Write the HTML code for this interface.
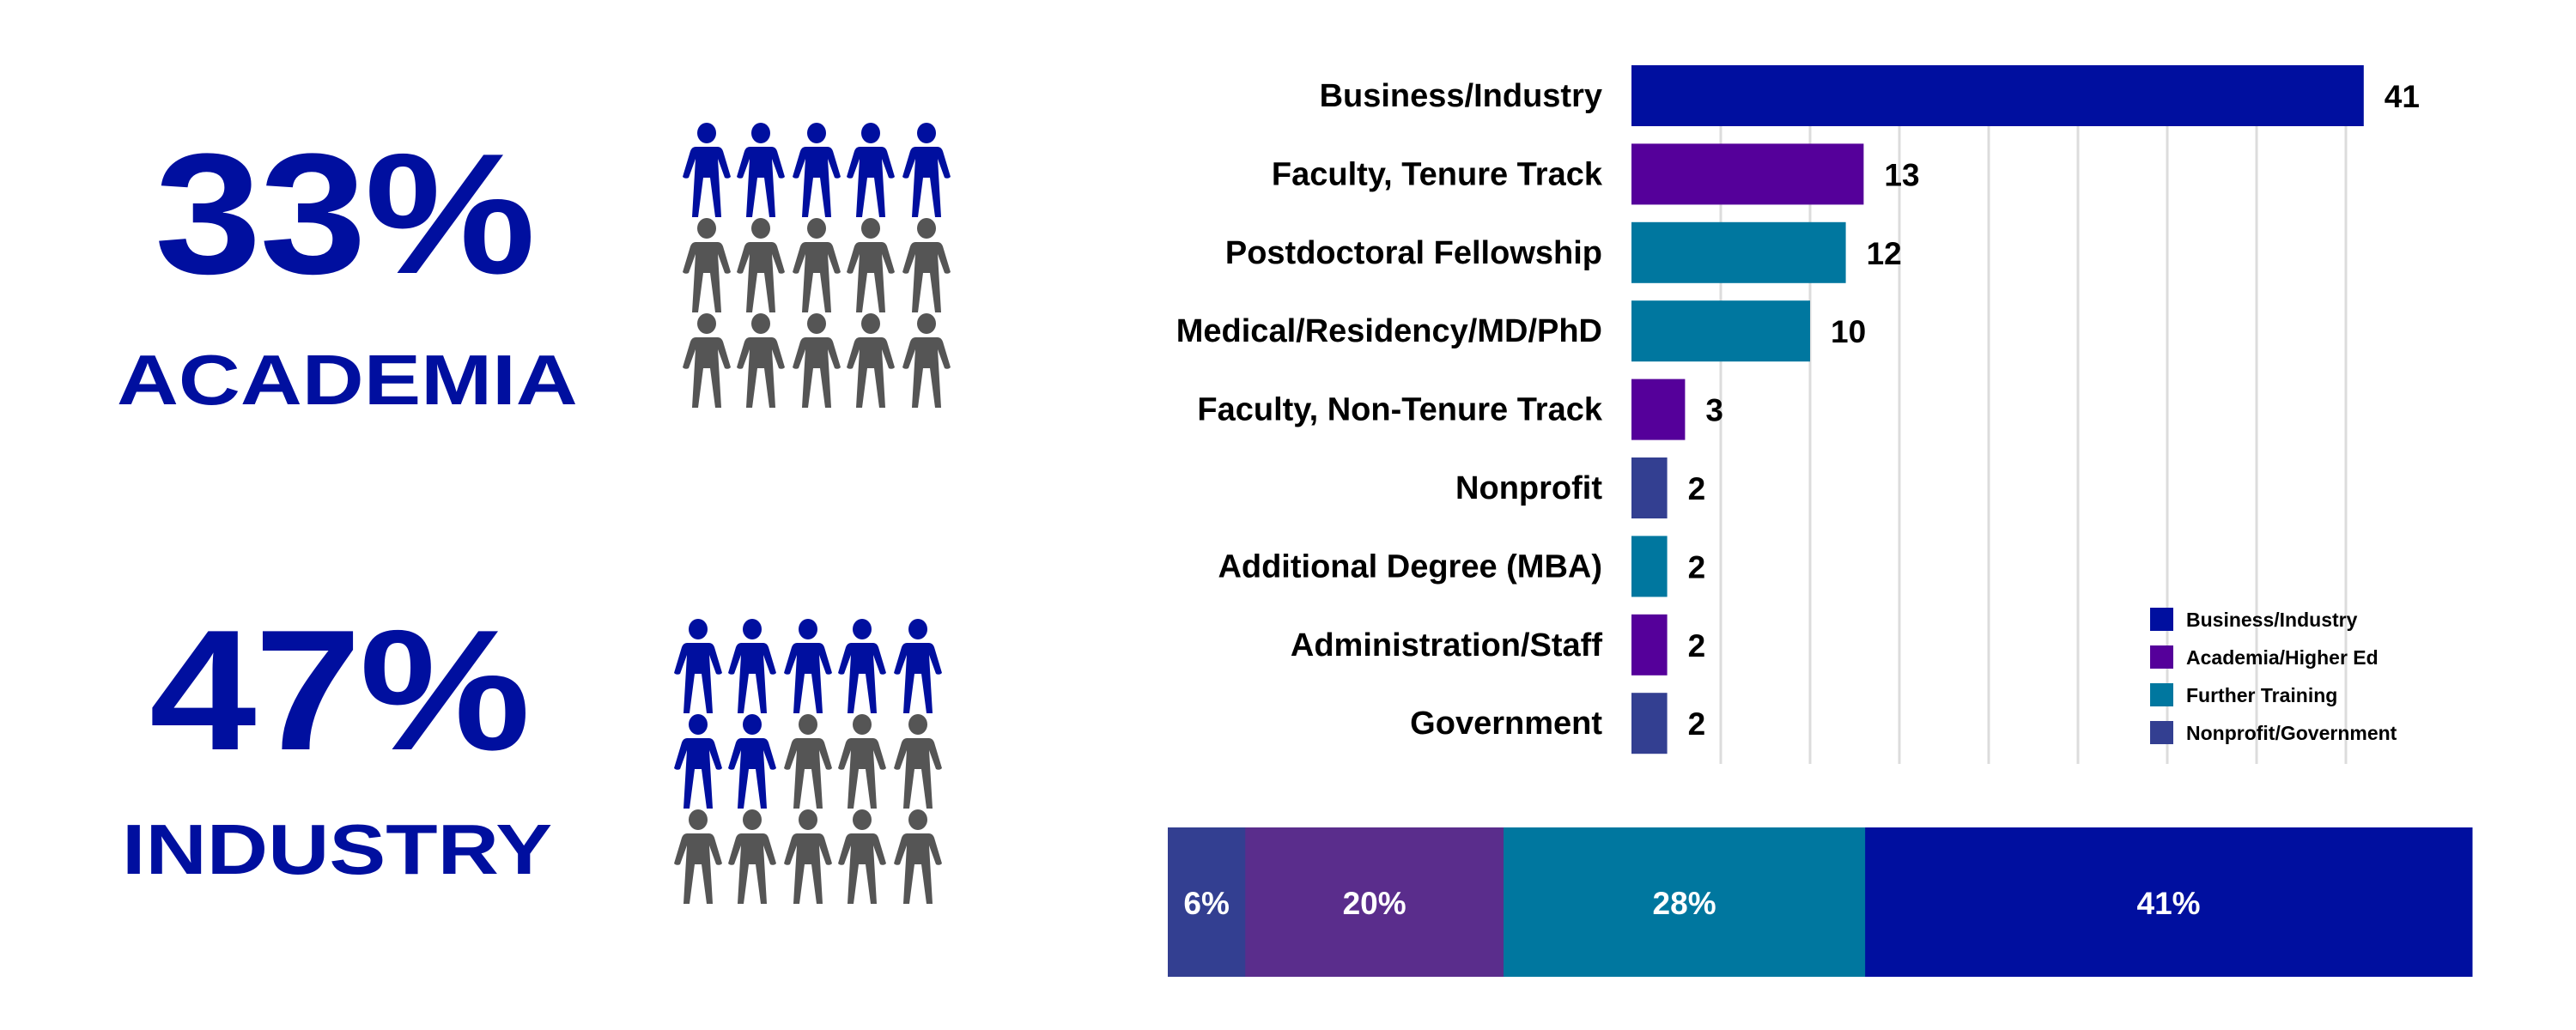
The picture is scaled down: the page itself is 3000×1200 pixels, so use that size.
<!DOCTYPE html>
<html><head><meta charset="utf-8"><style>
html,body{margin:0;padding:0;background:#fff;}
body{width:3000px;height:1200px;position:relative;overflow:hidden;font-family:"Liberation Sans",sans-serif;}
.big{position:absolute;color:#000f9f;font-weight:bold;font-family:"Liberation Sans",sans-serif;line-height:1;white-space:nowrap;transform-origin:0 0;}
</style></head><body>
<div class="big" style="left:180px;top:150px;font-size:200px;letter-spacing:-2px;transform:scaleX(1.12);">33%</div>
<div class="big" style="left:136px;top:401px;font-size:83px;transform:scaleX(1.2);">ACADEMIA</div>
<div class="big" style="left:174px;top:705px;font-size:200px;letter-spacing:-2px;transform:scaleX(1.12);">47%</div>
<div class="big" style="left:142px;top:948px;font-size:83px;transform:scaleX(1.19);">INDUSTRY</div>
<svg id="chart" width="3000" height="1200" style="position:absolute;left:0;top:0" xmlns="http://www.w3.org/2000/svg"></svg>
<script>
const categories=["Business/Industry","Faculty, Tenure Track","Postdoctoral Fellowship","Medical/Residency/MD/PhD","Faculty, Non-Tenure Track","Nonprofit","Additional Degree (MBA)","Administration/Staff","Government"];
const values=[41,13,12,10,3,2,2,2,2];
const groups=["bus","aca","ft","ft","aca","np","ft","aca","np"];
const gridTicks=[5,10,15,20,25,30,35,40];
const legendLabels=["Business/Industry","Academia/Higher Ed","Further Training","Nonprofit/Government"];
const legendKeys=["bus","aca","ft","np"];
const stackValues=[6,20,28,47];
const stackLabels=["6%","20%","28%","41%"];
const peopleTop=[5,7];
const colors={bus:"#000f9f",aca:"#55009a",ft:"#00779f",np:"#333f91"};
const stackColors=["#333f91","#5a2d8c","#00779f","#000f9f"];
const NS="http://www.w3.org/2000/svg";
const svg=document.getElementById('chart');
function mk(t,a,p){const e=document.createElementNS(NS,t);for(const k in a)e.setAttribute(k,a[k]);(p||svg).appendChild(e);return e;}
const x0=1900,ppu=20.8;
const xs=v=>x0+v*ppu;
const rowY=i=>111+i*91.4;
gridTicks.forEach(t=>{const l=mk('line',{x1:xs(t),x2:xs(t),y1:77,y2:890,stroke:'#dcdcdc','stroke-width':3});

});
categories.forEach((c,i)=>{const y=rowY(i);
const r=mk('rect',{x:x0,y:y-35,width:xs(values[i])-x0,height:71,fill:colors[groups[i]]});


const t=mk('text',{x:1866,y:y+13,'text-anchor':'end','font-size':38,'font-weight':'bold',fill:'#000','font-family':'Liberation Sans, sans-serif'});t.textContent=c;


const v=mk('text',{x:xs(values[i])+24,y:y+14,'font-size':37,'font-weight':'bold',fill:'#000','font-family':'Liberation Sans, sans-serif'});v.textContent=values[i];

});
legendLabels.forEach((l,i)=>{const y=721+i*44;
const s=mk('rect',{x:2504,y:y-13,width:27,height:27,fill:colors[legendKeys[i]]});


const t=mk('text',{x:2546,y:y+9,'font-size':23,'font-weight':'bold',fill:'#000','font-family':'Liberation Sans, sans-serif'});t.textContent=l;

});
const sx0=1360,sx1=2879;const tot=stackValues.reduce((a,b)=>a+b,0);let cx=sx0;
stackValues.forEach((v,i)=>{const w=v/tot*(sx1-sx0);
const r=mk('rect',{x:cx,y:964,width:w+0.5,height:174,fill:stackColors[i]});


const t=mk('text',{x:cx+w/2,y:1065,'text-anchor':'middle','font-size':37,'font-weight':'bold',fill:'#fff','font-family':'Liberation Sans, sans-serif'});t.textContent=stackLabels[i];


cx+=w;});
const body="M-13,28 h26 q4,0 6,5 l9,30 q-3,3 -7,1 l-8,-22 l4,68 h-7 l-6,-46 h-8 l-6,46 h-7 l4,-68 l-8,22 q-4,2 -7,-1 l9,-30 q2,-5 6,-5 Z";
const grids=[{cx:[823,886,951,1014,1079],top:[143,254,365]},{cx:[813,876,941,1004,1069],top:[721,832,943]}];
grids.forEach((g,gi)=>{let n=0;g.top.forEach(ty=>{g.cx.forEach(c=>{const blue=n<peopleTop[gi];n++;
const col=blue?'#000f9f':'#555555';
const grp=mk('g',{transform:`translate(${c},${ty})`,fill:col});


mk('ellipse',{cx:0,cy:12,rx:11,ry:12},grp);
mk('path',{d:body},grp);});});});
</script>
</body></html>
